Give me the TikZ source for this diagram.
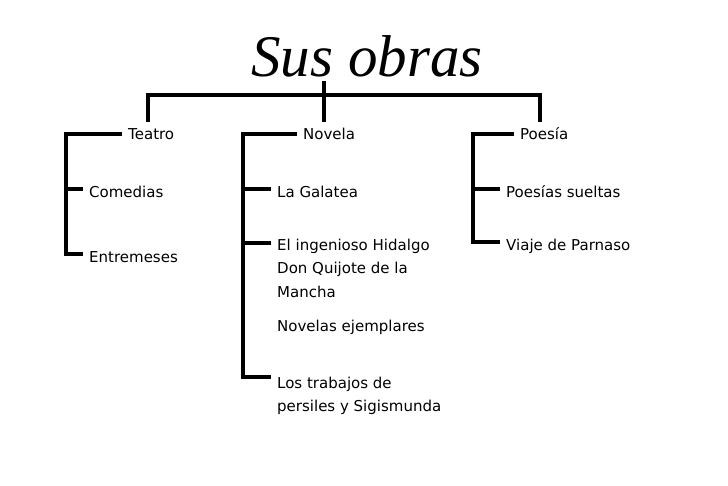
\documentclass[tikz,border=0pt]{standalone}
\usepackage{fontspec}
\setmainfont{DejaVu Sans}
\newfontfamily\titlefont{Liberation Serif}
\usetikzlibrary{positioning,calc}

\begin{document}
\begin{tikzpicture}[
    x=1pt, y=-1pt,
    bar/.style={line width=3.2pt, line cap=rect, line join=miter},
    title/.style={
      font=\titlefont\itshape\fontsize{59}{60}\selectfont,
      anchor=base,
      inner sep=0pt,
      outer ysep=6pt
    },
    head/.style={
      font=\fontsize{15}{24}\selectfont,
      anchor=base west,
      inner xsep=8pt,
      inner ysep=0pt
    },
    item/.style={
      font=\fontsize{15}{23.5}\selectfont,
      anchor=base west,
      align=left,
      inner xsep=8pt,
      inner ysep=0pt
    }
  ]

  \useasboundingbox (0,0) rectangle (728,485);

  % Title and the top bar
  \node[title] (title) at (367,76) {Sus obras};

  \coordinate (hub) at (324,95);
  \coordinate (tdrop) at (148,120);
  \coordinate (ndrop) at (324,120);
  \coordinate (pdrop) at (540,120);

  % Spines of the three groups
  \coordinate (tspine) at (66,134);
  \coordinate (nspine) at (243,134);
  \coordinate (pspine) at (473,134);

  % Headers
  \node[head] (teatro) at (120,139) {Teatro};
  \node[head] (novela) at (295,139) {Novela};
  \node[head] (poesia) at (512,139) {Poesía};

  % Items (multi-line ones sit on their last baseline)
  \node[item] (comedias) at (81,197) {Comedias};
  \node[item] (entremeses) at (81,262) {Entremeses};

  \node[item] (galatea) at (269,197) {La Galatea};
  \node[item] (quijote) at (269,297) {El ingenioso Hidalgo\\Don Quijote de la\\Mancha};
  \node[item] (ejemplares) at (269,331) {Novelas ejemplares};
  \node[item] (trabajos) at (269,411.5) {Los trabajos de\\persiles y Sigismunda};

  \node[item] (sueltas) at (498,197) {Poesías sueltas};
  \node[item] (parnaso) at (498,250) {Viaje de Parnaso};

  % Connectors
  \draw[bar] (tdrop) |- (hub) -| (pdrop);
  \draw[bar] (title.south -| hub) -- (ndrop);

  \draw[bar] ([yshift=5pt]teatro.base west) -- (tspine);
  \draw[bar] ([yshift=8pt]comedias.base west) -| (tspine);
  \draw[bar] ([yshift=8pt]entremeses.base west) -| (tspine);

  \draw[bar] ([yshift=5pt]novela.base west) -- (nspine);
  \draw[bar] ([yshift=8pt]galatea.base west) -| (nspine);
  \draw[bar] ([yshift=54pt]quijote.base west) -| (nspine);
  \draw[bar] ([yshift=34.5pt]trabajos.base west) -| (nspine);

  \draw[bar] ([yshift=5pt]poesia.base west) -- (pspine);
  \draw[bar] ([yshift=8pt]sueltas.base west) -| (pspine);
  \draw[bar] ([yshift=8pt]parnaso.base west) -| (pspine);

\end{tikzpicture}
\end{document}
